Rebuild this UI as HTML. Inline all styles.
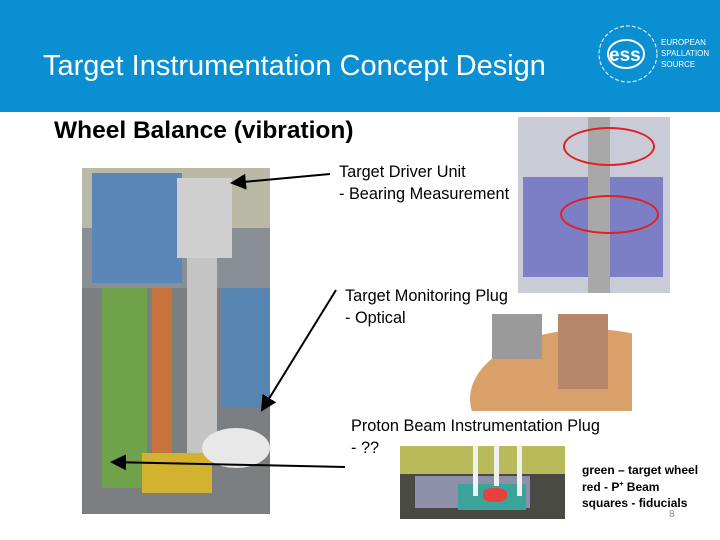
<!DOCTYPE html>
<html><head><style>
body{margin:0;width:720px;height:540px;background:#fff;position:relative;overflow:hidden;font-family:"Liberation Sans",sans-serif}
.hdr{position:absolute;left:0;top:0;width:720px;height:112px;background:#0a8fd2}
.t{position:absolute;white-space:nowrap}
</style></head><body>
<div class="hdr"></div>
<div class="t" style="left:43px;top:50px;font-size:29px;color:#fff">Target Instrumentation Concept Design</div>
<svg style="position:absolute;left:596px;top:22px" width="64" height="64"><ellipse cx="32" cy="32" rx="29" ry="28" fill="none" stroke="#cfe9f7" stroke-width="1.2" stroke-dasharray="4 2"/><ellipse cx="30" cy="32" rx="18" ry="14" fill="none" stroke="#fff" stroke-width="2"/><text x="13" y="39" font-size="19" font-weight="bold" fill="#fff" font-family="Liberation Sans">ess</text></svg>
<div class="t" style="left:661px;top:37px;font-size:8px;line-height:11px;color:#fff">EUROPEAN<br>SPALLATION<br>SOURCE</div>
<div class="t" style="left:54px;top:117px;font-size:24.5px;font-weight:bold;color:#000">Wheel Balance (vibration)</div>
<!-- main image -->
<div style="position:absolute;left:82px;top:168px;width:188px;height:346px;background:#8a8f96;overflow:hidden">
 <div style="position:absolute;left:0;top:0;width:188px;height:60px;background:#b9b9a5"></div>
 <div style="position:absolute;left:10px;top:5px;width:90px;height:110px;background:#5a86b8"></div>
 <div style="position:absolute;left:0;top:120px;width:188px;height:226px;background:#7c7f82"></div>
 <div style="position:absolute;left:95px;top:10px;width:55px;height:80px;background:#cfcfcf"></div>
 <div style="position:absolute;left:105px;top:90px;width:30px;height:200px;background:#c4c4c4"></div>
 <div style="position:absolute;left:20px;top:120px;width:45px;height:200px;background:#6fa24a"></div>
 <div style="position:absolute;left:70px;top:120px;width:20px;height:180px;background:#c9743c"></div>
 <div style="position:absolute;left:60px;top:285px;width:70px;height:40px;background:#d2b22e"></div>
 <div style="position:absolute;left:120px;top:260px;width:68px;height:40px;background:#e8e8e8;border-radius:50%"></div>
 <div style="position:absolute;left:140px;top:120px;width:48px;height:120px;background:#5585b0"></div>
</div>
<svg style="position:absolute;left:0;top:0" width="720" height="540">
<defs><marker id="a" markerWidth="8" markerHeight="8" refX="7" refY="4" orient="auto"><path d="M0,0L8,4L0,8z" fill="#000"/></marker></defs>
<line x1="330" y1="174" x2="232" y2="183" stroke="#000" stroke-width="2" marker-end="url(#a)"/>
<line x1="336" y1="290" x2="262" y2="410" stroke="#000" stroke-width="2" marker-end="url(#a)"/>
<line x1="345" y1="467" x2="112" y2="462" stroke="#000" stroke-width="2" marker-end="url(#a)"/>
</svg>
<div class="t" style="left:339px;top:161px;font-size:16.3px;line-height:22px">Target Driver Unit<br>- Bearing Measurement</div>
<div class="t" style="left:345px;top:285px;font-size:16.3px;line-height:22px">Target Monitoring Plug<br>- Optical</div>
<div class="t" style="left:351px;top:415px;font-size:16.3px;line-height:22px">Proton Beam Instrumentation Plug<br>- ??</div>
<!-- top-right image -->
<div style="position:absolute;left:518px;top:117px;width:152px;height:176px;background:#c9cbd6;overflow:hidden">
 <div style="position:absolute;left:5px;top:60px;width:140px;height:100px;background:#7c7fc6"></div>
 <div style="position:absolute;left:70px;top:0;width:22px;height:176px;background:#a8a8a8"></div>
 <div style="position:absolute;left:45px;top:10px;width:88px;height:35px;border:2px solid #e02020;border-radius:50%"></div>
 <div style="position:absolute;left:42px;top:78px;width:95px;height:35px;border:2px solid #e02020;border-radius:50%"></div>
</div>
<!-- middle image -->
<div style="position:absolute;left:470px;top:314px;width:162px;height:97px;overflow:hidden;background:#fff">
 <div style="position:absolute;left:0;top:15px;width:240px;height:140px;background:#d9a06a;border-radius:50%"></div>
 <div style="position:absolute;left:22px;top:0;width:50px;height:45px;background:#9a9a9a"></div>
 <div style="position:absolute;left:88px;top:0;width:50px;height:75px;background:#b8876a"></div>
</div>
<!-- bottom image -->
<div style="position:absolute;left:400px;top:446px;width:165px;height:73px;background:#4a4a44;overflow:hidden">
 <div style="position:absolute;left:0;top:0;width:165px;height:28px;background:#b9ba5a"></div>
 <div style="position:absolute;left:15px;top:30px;width:115px;height:32px;background:#8e90aa"></div>
 <div style="position:absolute;left:58px;top:38px;width:68px;height:26px;background:#3aa49a"></div>
 <div style="position:absolute;left:83px;top:42px;width:24px;height:14px;background:#e84040;border-radius:40%"></div>
 <div style="position:absolute;left:73px;top:0;width:5px;height:50px;background:#f0f0f0"></div>
 <div style="position:absolute;left:94px;top:0;width:5px;height:40px;background:#f0f0f0"></div>
 <div style="position:absolute;left:117px;top:0;width:5px;height:50px;background:#f0f0f0"></div>
</div>
<div class="t" style="left:582px;top:462px;font-size:12px;line-height:16.5px;font-weight:bold">green – target wheel<br>red - P<sup style="font-size:7px;line-height:0">+</sup> Beam<br>squares - fiducials</div>
<div class="t" style="left:669px;top:509px;font-size:10px;color:#888">8</div>
</body></html>
